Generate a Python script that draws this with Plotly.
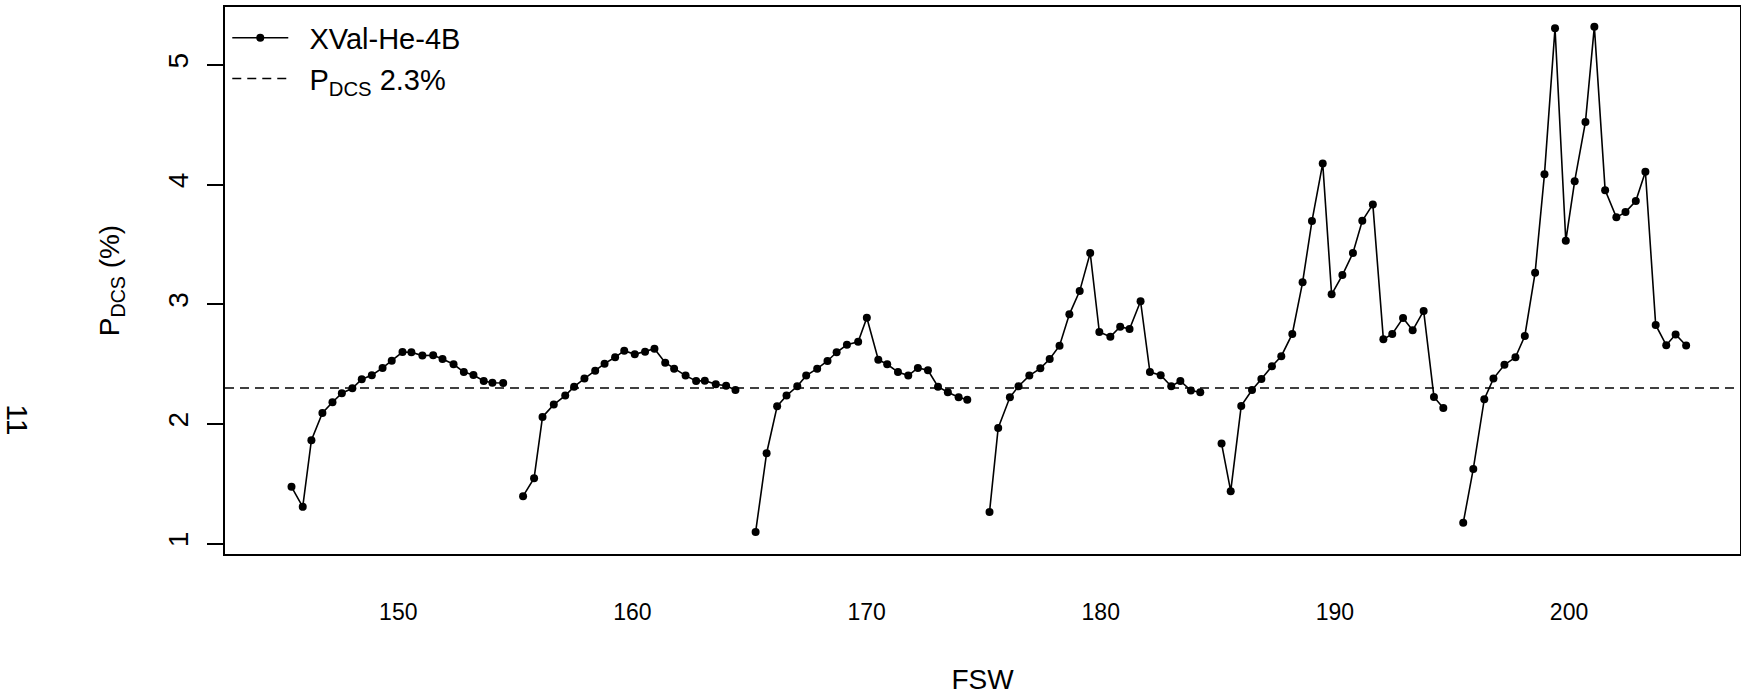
import plotly.graph_objects as go

# ---- data ----
seg1_fsw = [145.44, 145.92, 146.29, 146.76, 147.19, 147.59, 148.04, 148.44, 148.87, 149.33, 149.72,
            150.18, 150.56, 151.03, 151.49, 151.89, 152.36, 152.80, 153.21, 153.65, 154.02, 154.48]
seg1_pdcs = [1.475, 1.308, 1.865, 2.092, 2.182, 2.257, 2.298, 2.374, 2.407, 2.468, 2.529,
             2.601, 2.599, 2.571, 2.574, 2.543, 2.499, 2.434, 2.409, 2.359, 2.345, 2.342]

seg2_fsw = [155.33, 155.80, 156.16, 156.64, 157.13, 157.51, 157.95, 158.41, 158.81, 159.26, 159.65,
            160.10, 160.54, 160.94, 161.40, 161.78, 162.27, 162.72, 163.09, 163.56, 164.00, 164.40]
seg2_pdcs = [1.397, 1.547, 2.059, 2.162, 2.237, 2.312, 2.379, 2.445, 2.504, 2.557, 2.612,
             2.582, 2.604, 2.629, 2.512, 2.462, 2.404, 2.359, 2.362, 2.332, 2.320, 2.284]

seg3_fsw = [165.26, 165.73, 166.18, 166.58, 167.04, 167.42, 167.89, 168.33, 168.72, 169.16, 169.64,
            170.01, 170.50, 170.88, 171.34, 171.78, 172.19, 172.62, 173.05, 173.47, 173.93, 174.30]
seg3_pdcs = [1.097, 1.756, 2.148, 2.237, 2.315, 2.404, 2.462, 2.526, 2.599, 2.662, 2.687,
             2.888, 2.537, 2.499, 2.434, 2.404, 2.468, 2.449, 2.312, 2.265, 2.223, 2.203]

seg4_fsw = [175.25, 175.62, 176.12, 176.49, 176.95, 177.42, 177.82, 178.24, 178.66, 179.10, 179.55,
            179.94, 180.41, 180.83, 181.23, 181.70, 182.10, 182.56, 183.01, 183.40, 183.85, 184.25]
seg4_pdcs = [1.264, 1.967, 2.223, 2.315, 2.404, 2.465, 2.543, 2.654, 2.916, 3.110, 3.428,
             2.768, 2.729, 2.813, 2.793, 3.025, 2.434, 2.407, 2.315, 2.359, 2.279, 2.265]

seg5_fsw = [185.16, 185.55, 186.00, 186.46, 186.86, 187.31, 187.71, 188.18, 188.62, 189.02, 189.48,
            189.86, 190.32, 190.77, 191.17, 191.62, 192.07, 192.45, 192.91, 193.32, 193.79, 194.23, 194.63]
seg5_pdcs = [1.836, 1.439, 2.151, 2.284, 2.376, 2.482, 2.566, 2.752, 3.183, 3.695, 4.176,
             3.083, 3.244, 3.428, 3.697, 3.834, 2.707, 2.752, 2.885, 2.782, 2.944, 2.226, 2.134]

seg6_fsw = [195.48, 195.91, 196.38, 196.77, 197.24, 197.71, 198.11, 198.55, 198.95, 199.40, 199.86,
            200.24, 200.70, 201.08, 201.54, 202.02, 202.41, 202.85, 203.26, 203.70, 204.15, 204.55, 205.00]
seg6_pdcs = [1.174, 1.625, 2.207, 2.379, 2.495, 2.557, 2.735, 3.263, 4.087, 5.305, 3.530,
             4.028, 4.523, 5.319, 3.953, 3.726, 3.770, 3.862, 4.106, 2.827, 2.658, 2.747, 2.655]

threshold = 2.3
x_range = [142.6, 207.3]
y_range = [0.914, 5.483]
x_ticks = [150, 160, 170, 180, 190, 200]
y_ticks = [1, 2, 3, 4, 5]
series_name = "XVal-He-4B"
threshold_name = "P<sub>DCS</sub> 2.3%"

# ---- assemble segments with gaps ----
segments = [(seg1_fsw, seg1_pdcs), (seg2_fsw, seg2_pdcs), (seg3_fsw, seg3_pdcs),
            (seg4_fsw, seg4_pdcs), (seg5_fsw, seg5_pdcs), (seg6_fsw, seg6_pdcs)]
fsw, pdcs = [], []
for sx, sy in segments:
    if fsw:
        fsw.append(None)
        pdcs.append(None)
    fsw.extend(sx)
    pdcs.extend(sy)

FONT = "Liberation Sans, Arial, Helvetica, sans-serif"
PAD = "\u00a0\u00a0"

fig = go.Figure()
fig.add_trace(go.Scatter(
    x=fsw, y=pdcs, mode="lines+markers", name=PAD + series_name,
    line=dict(color="black", width=1.6),
    marker=dict(color="black", size=8),
    connectgaps=False,
))
fig.add_trace(go.Scatter(
    x=x_range, y=[threshold, threshold], mode="lines", name=PAD + threshold_name,
    line=dict(color="black", width=1.5, dash="9px,6px"),
))

fig.update_layout(
    width=1741, height=699,
    margin=dict(l=225, r=1, t=7, b=145, autoexpand=False),
    plot_bgcolor="white", paper_bgcolor="white",
    font=dict(family=FONT, color="black", size=28),
    showlegend=True,
    xaxis=dict(
        range=x_range, tickvals=x_ticks, ticks="", automargin=False,
        showline=True, mirror=True, linecolor="black", linewidth=1.5,
        showgrid=False, zeroline=False,
        tickfont=dict(size=23), ticklabelstandoff=37,
        title=dict(text="FSW", font=dict(size=28), standoff=45),
    ),
    yaxis=dict(
        range=y_range, tickvals=y_ticks, ticks="outside", ticklen=16, automargin=False,
        tickwidth=1.5, tickcolor="black", tickangle=-90,
        showline=True, mirror=True, linecolor="black", linewidth=1.5,
        showgrid=False, zeroline=False,
        tickfont=dict(size=28), ticklabelstandoff=8,
        title=dict(text="P<sub>DCS</sub> (%)", font=dict(size=28), standoff=35),
    ),
    legend=dict(
        x=0.0015, y=0.99, xanchor="left", yanchor="top",
        bgcolor="rgba(0,0,0,0)", borderwidth=0,
        font=dict(size=29), itemwidth=56, tracegroupgap=0,
    ),
    annotations=[dict(
        text="11", xref="paper", yref="paper", x=-0.1375, y=0.245,
        xanchor="center", yanchor="middle", textangle=90, showarrow=False,
        font=dict(size=30),
    )],
)

fig.write_html(
    "out.html",
    config={"displayModeBar": False},
    post_script="document.body.style.margin='0';document.body.style.overflow='hidden';",
)
